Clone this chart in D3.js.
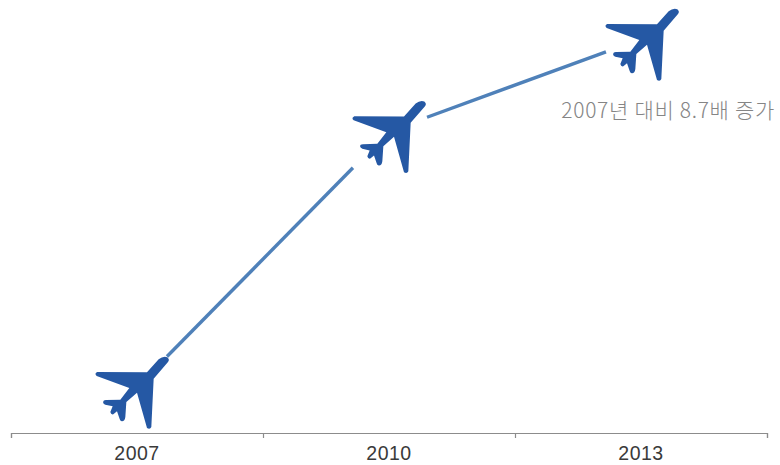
<!DOCTYPE html>
<html><head><meta charset="utf-8">
<script src="https://cdn.jsdelivr.net/npm/d3@7"></script>
<style>html,body{margin:0;padding:0;background:#fff}svg{display:block}</style>
</head><body><svg id="c" width="780" height="465"></svg>
<script>
const categories = ["2007","2010","2013"];
const values = [1, 6.66, 8.7];
const annotation = "2007년 대비 8.7배 증가";

const svg = d3.select("#c");
const x = d3.scaleBand().domain(categories).range([11,767]);
const y = d3.scaleLinear().domain([1,8.7]).range([387,39]);
const axisY = 433;
const px = c => x(c)+x.bandwidth()/2;

const edges = d3.scaleLinear().domain([0,categories.length]).range([11,767]);
const gTicks = svg.append("g").attr("transform",`translate(0,${axisY})`)
  .call(d3.axisBottom(edges).ticks(categories.length).tickSize(5).tickSizeOuter(5).tickFormat(""));
gTicks.selectAll("path,line").attr("stroke","#8c8c8c").attr("stroke-width",1.2);
const gLabels = svg.append("g").attr("transform",`translate(0,${axisY})`)
  .call(d3.axisBottom(x).tickSize(0).tickPadding(13));
gLabels.select(".domain").remove();
gLabels.selectAll("text").attr("font-family","Liberation Sans, Arial, sans-serif")
  .attr("font-size",19.5).attr("letter-spacing",0.5).attr("fill","#3a3a3a");

const trims = [[0.119,0.857],[0.151,0.861]];
const pts = categories.map((c,i)=>[px(c),y(values[i])]);
const line = d3.line();
d3.pairs(pts).forEach(([a,b],i)=>{
  const [s,e]=trims[i];
  const at=t=>[a[0]+(b[0]-a[0])*t,a[1]+(b[1]-a[1])*t];
  svg.append("path").attr("d",line([at(s),at(e)]))
    .attr("fill","none").attr("stroke","#4f81b9").attr("stroke-width",3.4);
});

const plane = "M264,51 L221,101 L214,246 Q210,255 201,249 L171,143 L139,171 L136,216 Q134,230 125,229 Q120,228 119,222 L111,199 L100,208 Q93,210 91,201 L98,184 L76,179 Q66,174 71,167 Q73,165 78,165 L121,164 L148,129 L50,93 Q42,86 52,81 L201,82 L236,43 Q250,32 262,37 Q270,44 264,51 Z";
const planeDx = [-5,0,1];
svg.selectAll("path.plane").data(categories).join("path").attr("class","plane")
  .attr("d",plane).attr("fill","#2558a4")
  .attr("transform",(c,i)=>`translate(${px(c)+planeDx[i]},${y(values[i])+5.5}) scale(${1/3}) translate(-156,-142.5)`);

svg.append("text").attr("x",775).attr("y",118).attr("text-anchor","end")
  .attr("font-family","Noto Sans CJK KR, Noto Sans, sans-serif").attr("font-weight",300)
  .attr("font-size",21).attr("letter-spacing",0.7).attr("fill","#858585").text(annotation);
</script></body></html>
